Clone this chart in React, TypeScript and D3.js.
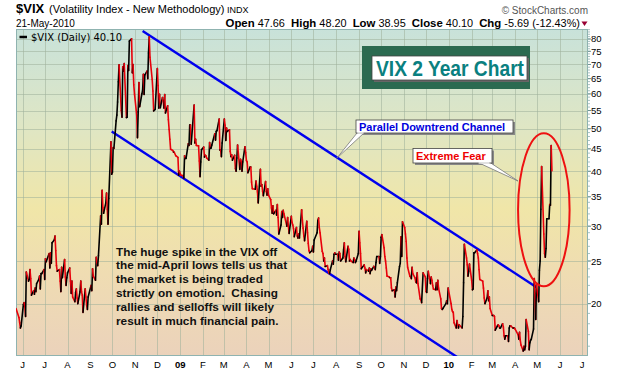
import React from "react";
import * as d3 from "d3";

// ---------- DATA ----------
const HOLIDAYS = [
  "2008-05-26","2008-07-04","2008-09-01","2008-11-27","2008-12-25",
  "2009-01-01","2009-01-19","2009-02-16","2009-04-10","2009-05-25","2009-07-03",
  "2009-09-07","2009-11-26","2009-12-25",
  "2010-01-01","2010-01-18","2010-02-15","2010-04-02",
];

// Daily closes, 23-May-2008 .. 31-Dec-2008
const vix2008 = [
  19.5, 18.6, 18.1, 17.6, 17.8,
  19.9, 20.1, 19.7, 18.7, 23.6, 22.5, 22.7, 23.9, 22.8, 20.9, 21.4, 21.0, 21.7, 21.3, 22.2, 22.7, 23.1, 21.6, 23.4, 23.4, 23.9,
  22.7, 25.3, 24.9, 26.0, 24.1, 26.1, 24.7, 27.5, 27.9, 28.5, 26.4, 24.4, 23.7, 23.9, 22.5, 21.3, 24.2, 22.9, 25.2, 23.0, 22.0, 22.9,
  23.5, 24.1, 22.5, 21.1, 22.5, 20.7, 20.2, 21.2, 21.6, 20.6, 20.0, 21.3, 22.5, 21.3, 20.9, 19.1, 21.6, 20.7, 19.8, 19.4, 20.7,
  22.0, 21.4, 24.0, 23.1, 22.6, 25.5, 24.8, 24.4, 25.7, 31.7, 30.3, 36.2, 33.1, 32.1, 33.9, 35.7, 32.8, 30.3, 34.7, 46.7, 39.4,
  39.8, 45.3, 45.1, 52.1, 53.7, 57.5, 63.9, 69.9, 55.0, 53.1, 69.2, 67.6, 70.3, 53.0, 53.1, 69.6, 67.8, 79.1, 80.1, 67.0, 70.0, 62.9, 59.9,
  53.7, 47.7, 54.6, 63.7, 56.1, 60.0, 61.2, 66.5, 59.8, 66.3, 67.6, 65.0, 74.3, 80.9, 72.7, 64.7, 60.9, 54.9, 55.3,
  68.5, 62.7, 55.7, 59.9, 55.8, 58.9, 57.9, 55.7, 59.8, 54.3, 56.4, 52.4, 49.8, 47.3, 44.9, 44.6, 44.2, 44.2, 43.4, 43.0, 39.2, 40.0,
];

// Daily closes, 2-Jan-2009 .. 31-Dec-2009
const vix2009 = [
  39.2, 39.1, 38.6, 43.4, 42.8, 42.8, 46.2, 45.8, 51.0, 51.0, 46.1, 56.6, 46.4, 47.3, 45.8, 45.7, 42.2, 38.9, 42.0, 44.8,
  45.4, 43.1, 43.5, 43.4, 42.9, 42.4, 46.5, 45.1, 45.2, 45.9, 48.7, 47.1, 49.3, 49.5, 52.6, 44.7, 44.7, 43.2, 46.4,
  52.6, 50.9, 47.0, 50.2, 49.3, 49.7, 44.4, 43.2, 43.6, 42.4, 43.5, 40.6, 40.0, 42.9, 45.9, 40.4, 42.6, 42.1, 40.0, 42.0, 45.5, 44.1,
  42.3, 42.0, 39.7, 40.9, 40.9, 37.8, 36.5, 36.4, 38.0, 37.0, 35.9, 33.9, 40.4, 37.0, 37.3, 36.0, 35.2, 37.9, 36.0, 35.3, 36.5,
  35.3, 34.5, 33.0, 32.1, 33.4, 32.0, 32.6, 31.8, 33.6, 31.4, 28.8, 30.2, 32.4, 31.4, 32.6, 32.0, 30.0, 31.4, 30.0, 28.9,
  31.6, 30.6, 30.2, 29.6, 28.4, 29.8, 28.5, 28.2, 28.8, 28.2, 32.7, 31.0, 29.7, 28.5, 27.8, 30.8, 29.0, 27.4, 26.4, 26.1, 26.4, 27.0,
  26.2, 27.9, 29.0, 30.9, 31.3, 29.8, 29.0, 26.3, 26.0, 25.0, 25.4, 24.3, 24.4, 23.9, 23.5, 23.4, 23.9, 25.0, 24.6, 25.9, 26.1, 25.9,
  25.9, 25.1, 26.2, 26.0, 25.0, 25.4, 26.5, 27.5, 25.6, 24.9, 27.0, 26.6, 25.0, 25.2, 25.0, 24.8, 25.4, 25.2, 24.8, 25.0, 26.0,
  29.2, 27.5, 26.0, 24.0, 24.5, 24.1, 23.5, 23.9, 23.7, 24.1, 23.4, 24.0, 23.8, 24.3, 24.2, 23.9, 24.8, 25.6, 25.6, 24.7, 25.6,
  28.3, 28.7, 26.8, 25.6, 25.0, 24.1, 23.1, 23.0, 22.9, 22.9, 21.7, 21.4, 21.5, 20.7, 21.8, 21.4, 22.3, 24.3, 24.7, 28.4, 25.6, 30.7,
  29.8, 28.8, 27.7, 25.4, 24.2, 23.1, 23.0, 22.8, 24.2, 23.4, 22.9, 22.4, 22.3, 23.5, 22.2, 20.5, 20.4, 20.1, 23.5, 23.0,
  21.3, 21.2, 22.8, 23.7, 22.2, 23.0, 22.6, 22.0, 21.6, 21.5, 22.3, 21.5, 22.6, 21.7, 20.5, 19.5, 19.4, 19.5, 20.0, 20.3, 20.0, 21.7,
];

// Daily closes, 4-Jan-2010 .. 21-May-2010
const vix2010 = [
  20.0, 19.4, 19.2, 19.1, 18.1, 17.6, 18.3, 17.9, 17.6, 17.9, 17.6, 18.7, 22.3, 27.3, 25.4, 24.5, 23.1, 23.7, 24.6,
  22.6, 21.5, 21.6, 26.1, 26.1, 26.5, 26.0, 25.4, 23.9, 22.7, 22.5, 21.7, 20.6, 20.0, 20.6, 21.4, 20.3, 20.7, 19.5,
  18.8, 18.8, 18.8, 18.7, 17.4, 17.8, 17.9, 17.8, 17.6, 17.6, 18.0, 17.7, 16.9, 16.6, 16.9, 16.9, 16.4, 17.6, 17.8, 17.8, 17.6, 17.6, 17.6,
  17.5, 17.0, 16.6, 17.2, 16.5, 16.1, 15.6, 16.0, 15.7, 16.0, 18.4, 17.3, 15.7, 16.3, 16.5, 16.6, 17.5, 22.8, 21.1, 18.4, 22.1,
  20.2, 23.8, 25.0, 32.8, 41.0, 28.8, 26.0, 25.5, 26.7, 31.2, 31.2, 33.6, 33.5, 45.8, 40.1,
];

const Y_TICKS = [20, 25, 30, 35, 40, 45, 50, 55, 60, 65, 70, 75, 80];
const MONTH_LABELS = ["J","J","A","S","O","N","D","09","F","M","A","M","J","J","A","S","O","N","D","10","F","M","A","M","J","J"];
const QUOTE = [["Open", "47.66"], ["High", "48.20"], ["Low", "38.95"], ["Close", "40.10"], ["Chg", "-5.69 (-12.43%)"]];

// channel lines (date, value) endpoints
const UPPER_CHANNEL = [["2008-11-11", 83.4], ["2010-04-30", 21.8]];
const LOWER_CHANNEL = [["2008-09-30", 49.3], ["2010-01-14", 15.05]];
const FEAR_ELLIPSE = { from: "2010-04-05", to: "2010-06-14", hi: 48.8, lo: 21.9 };

// ---------- HELPERS ----------
const parse = d3.timeParse("%Y-%m-%d");
const fmt = d3.timeFormat("%Y-%m-%d");
const holidaySet = new Set(HOLIDAYS);
function tradingDays(start: string, n: number): Date[] {
  const out: Date[] = [];
  let d = parse(start)!;
  while (out.length < n) {
    const wd = d.getDay();
    if (wd !== 0 && wd !== 6 && !holidaySet.has(fmt(d))) out.push(d);
    d = d3.timeDay.offset(d, 1);
  }
  return out;
}

const series = [
  ...tradingDays("2008-05-23", vix2008.length).map((d, i) => ({ d, v: vix2008[i] })),
  ...tradingDays("2009-01-02", vix2009.length).map((d, i) => ({ d, v: vix2009[i] })),
  ...tradingDays("2010-01-04", vix2010.length).map((d, i) => ({ d, v: vix2010[i] })),
];

const W = 620, H = 376;
const L = 16, R = 588, T = 29, B = 356;
const FONT = "'Liberation Sans', Arial, sans-serif";

export default function App() {
  const x = d3.scaleTime().domain([parse("2008-05-23")!, parse("2010-07-09")!]).range([L, R]);
  const y = d3.scaleLog().domain([15.2, 84.3]).range([B, T]);

  const months = d3.timeMonth.range(parse("2008-06-01")!, parse("2010-07-02")!);
  const minor = d3.range(16, 85);

  const segs = series.slice(1).map((p, i) => {
    const q = series[i];
    return (
      <line key={i} x1={x(q.d)} y1={y(q.v)} x2={x(p.d)} y2={y(p.v)}
        stroke={p.v >= q.v ? "#000000" : "#e8000b"} strokeWidth={1.6} strokeLinecap="round" />
    );
  });

  const chan = (c: any[]) => ({
    x1: x(parse(c[0][0])!), y1: y(c[0][1]), x2: x(parse(c[1][0])!), y2: y(c[1][1]),
  });
  const up = chan(UPPER_CHANNEL), lo = chan(LOWER_CHANNEL);
  const ex1 = x(parse(FEAR_ELLIPSE.from)!), ex2 = x(parse(FEAR_ELLIPSE.to)!);
  const ey1 = y(FEAR_ELLIPSE.hi), ey2 = y(FEAR_ELLIPSE.lo);

  return (
    <svg width={W} height={H} style={{ position: "absolute", left: 0, top: 0, background: "#fff" }}
      fontFamily={FONT}>
      <defs>
        <linearGradient id="bg" x1="0" y1="0" x2="0" y2="1">
          <stop offset="0%" stopColor="#c8e2da" />
          <stop offset="30%" stopColor="#dfe6c4" />
          <stop offset="55%" stopColor="#f0e6a8" />
          <stop offset="75%" stopColor="#efdcb2" />
          <stop offset="100%" stopColor="#ebd2bb" />
        </linearGradient>
        <clipPath id="plot"><rect x={L} y={T} width={R - L} height={B - T} /></clipPath>
      </defs>

      {/* header */}
      <text x={16} y={12.7} fontSize={13} fontWeight="bold">$VIX</text>
      <text x={49} y={12.7} fontSize={11}>(Volatility Index - New Methodology)</text>
      <text x={227} y={12.7} fontSize={9}>INDX</text>
      <text x={16} y={26.5} fontSize={10}>21-May-2010</text>
      <text x={588} y={13.5} fontSize={10} fill="#555" textAnchor="end">© StockCharts.com</text>
      <text x={580} y={26.5} fontSize={10.9} textAnchor="end" xmlSpace="preserve">
        {QUOTE.map(([k, v], i) => (
          <tspan key={k}>
            <tspan fontWeight="bold" fontSize={11.4}>{k}</tspan>
            <tspan>{" " + v + (i < QUOTE.length - 1 ? "  " : "")}</tspan>
          </tspan>
        ))}
      </text>
      <path d="M581.5,21.5 L587.5,21.5 L584.5,26 Z" fill="#990033" />

      {/* plot */}
      <rect x={L} y={T} width={R - L} height={B - T} fill="url(#bg)" />
      <g stroke="#9fb09a" strokeOpacity={0.55} strokeWidth={1}>
        {Y_TICKS.map(t => <line key={t} x1={L} x2={R} y1={Math.round(y(t)) + 0.5} y2={Math.round(y(t)) + 0.5} />)}
        {months.map((m, i) => <line key={i} x1={Math.round(x(m)) + 0.5} x2={Math.round(x(m)) + 0.5} y1={T} y2={B} />)}
      </g>
      <rect x={L + 0.5} y={T + 0.5} width={R - L - 1} height={B - T - 1} fill="none" stroke="#8fb3b0" strokeWidth={1} />

      {/* legend */}
      <line x1={19.5} x2={27} y1={37} y2={37} stroke="#000" strokeWidth={2.5} />
      <text x={31} y={40.5} fontSize={10} fontFamily="'DejaVu Sans', Verdana, sans-serif">$VIX (Daily) 40.10</text>

      <g clipPath="url(#plot)">
        <line {...up} stroke="#0000ee" strokeWidth={2.4} />
        <line {...lo} stroke="#0000ee" strokeWidth={2.4} />
        {segs}
        <ellipse cx={(ex1 + ex2) / 2} cy={(ey1 + ey2) / 2} rx={(ex2 - ex1) / 2} ry={(ey2 - ey1) / 2}
          fill="none" stroke="#ee1111" strokeWidth={2} />
      </g>

      {/* y axis */}
      <g>
        {minor.map(v => <line key={v} x1={R} x2={R + 2} y1={y(v)} y2={y(v)} stroke="#8fb3b0" strokeWidth={0.8} />)}
        {Y_TICKS.map(t => (
          <g key={t}>
            <line x1={R} x2={R + 3} y1={y(t)} y2={y(t)} stroke="#6f9592" />
            <text x={591} y={y(t) + 3.5} fontSize={9.5}>{t}</text>
          </g>
        ))}
      </g>

      {/* x axis */}
      {months.map((m, i) => (
        <text key={i} x={x(m)} y={368} fontSize={9.5} textAnchor="middle"
          fontWeight={MONTH_LABELS[i].length > 1 ? "bold" : "normal"}>{MONTH_LABELS[i]}</text>
      ))}

      {/* VIX 2 Year Chart title box */}
      <rect x={362} y={46} width={168} height={43} fill="#2b6a50" />
      <rect x={374} y={58} width={155} height={24} fill="#666" />
      <rect x={372} y={56} width={155} height={24} fill="#fff" stroke="#444" strokeWidth={0.8} />
      <text x={376} y={76} fontSize={22} fontWeight="bold" fill="#0a8080" textLength={148}
        lengthAdjust="spacingAndGlyphs">VIX 2 Year Chart</text>

      {/* Parallel Downtrend Channel callout */}
      <rect x={358} y={122} width={157} height={13} fill="#888" />
      <polygon points="357,133 364,133 336.7,158.3" fill="#fff" stroke="#777" strokeWidth={0.8} />
      <rect x={356} y={120} width={157} height={13} fill="#fff" stroke="#444" strokeWidth={0.8} />
      <line x1={357.4} x2={363.6} y1={133} y2={133} stroke="#fff" strokeWidth={1.2} />
      <text x={359} y={130.5} fontSize={11} fontWeight="bold" fill="#0000dd">Parallel Downtrend Channel</text>

      {/* Extreme Fear callout */}
      <rect x={415} y={150.5} width={79} height={14.5} fill="#888" />
      <polygon points="478,162.5 490,162.5 518,181" fill="#fff" stroke="#777" strokeWidth={0.8} />
      <rect x={413} y={148.5} width={79} height={14.5} fill="#fff" stroke="#444" strokeWidth={0.8} />
      <line x1={478.6} x2={489.4} y1={163} y2={163} stroke="#fff" strokeWidth={1.2} />
      <text x={416} y={159.8} fontSize={11} fontWeight="bold" fill="#ee0000">Extreme Fear</text>

      {/* commentary */}
      <text x={116} fontSize={11.8} fontWeight="bold" fill="#111" xmlSpace="preserve">
        <tspan x={116} y={255.5}>The huge spike in the VIX off</tspan>
        <tspan x={116} y={269.3}>the mid-April lows tells us that</tspan>
        <tspan x={116} y={283.2}>the market is being traded</tspan>
        <tspan x={116} y={297.1}>strictly on emotion.  Chasing</tspan>
        <tspan x={116} y={311}>rallies and selloffs will likely</tspan>
        <tspan x={116} y={324.9}>result in much financial pain.</tspan>
      </text>
    </svg>
  );
}
